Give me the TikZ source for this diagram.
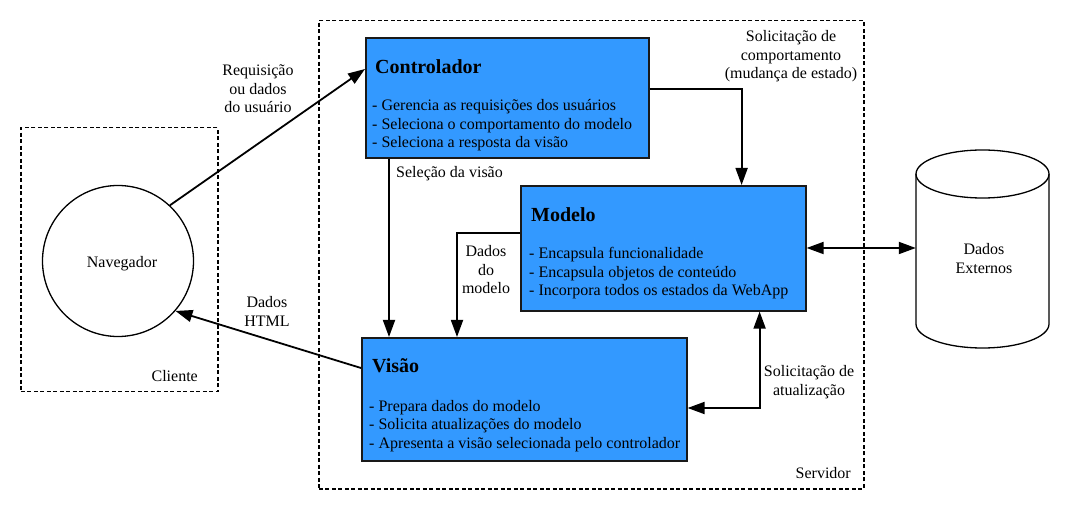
\documentclass[tikz,border=0pt]{standalone}
\usepackage{fontspec}
\setmainfont{Liberation Serif}
\usetikzlibrary{arrows.meta}
\definecolor{boxblue}{HTML}{3399FF}
\newcommand{\tlines}[2]{\begin{tabular}[t]{@{}#1@{}}#2\end{tabular}}
\begin{document}
\begin{tikzpicture}[x=1pt,y=-1pt,
  font=\fontsize{16}{18.5}\selectfont,
  box/.style={draw=black!90, line width=1.6pt, fill=boxblue, inner sep=0, anchor=north west},
  dashbox/.style={draw, line width=1.5pt, dash pattern=on 4pt off 2.5pt, inner sep=0, anchor=north west},
  arr/.style={line width=1.8pt, -{Triangle[length=17pt,width=12pt]}},
  darr/.style={line width=1.8pt, {Triangle[length=17pt,width=12pt]}-{Triangle[length=17pt,width=12pt]}},
  txt/.style={inner sep=0, anchor=base west},
  ctxt/.style={inner sep=0, anchor=base},
  rtxt/.style={inner sep=0, anchor=base east},
  title/.style={inner sep=0, anchor=base west, font=\fontsize{20}{24}\selectfont\bfseries}]
\useasboundingbox (0,0) rectangle (1079,518);

% containers
\node[dashbox, minimum width=545pt, minimum height=468pt] (srv) at (318,20) {};
\node[dashbox, minimum width=197pt, minimum height=264pt] (cli) at (20,127) {};
\node[rtxt] (srvT) at (851,478) {Servidor};
\node[rtxt] (cliT) at (198,382) {Cliente};

% browser
\node[draw, circle, line width=1.3pt, minimum size=151pt, inner sep=0] (nav) at (118,261) {};
\node[ctxt] (navT) at (122,268) {Navegador};

% external data cylinder
\node[inner sep=0, minimum width=133pt, minimum height=198pt] (db) at (982.5,249) {};
\draw[line width=1.3pt] (916,174) -- (916,324) arc[start angle=180, end angle=360, x radius=66.5pt, y radius=24pt] -- (1049,174);
\draw[line width=1.3pt] (982.5,174) ellipse [x radius=66.5pt, y radius=24pt];
\node[ctxt] (dbT) at (984,255) {\tlines{c}{Dados\\Externos}};

% MVC boxes
\node[box, minimum width=283pt, minimum height=120pt] (ctrl) at (365,37) {};
\node[box, minimum width=285pt, minimum height=125pt] (mod) at (520,185) {};
\node[box, minimum width=325pt, minimum height=123pt] (vis) at (361,337) {};

\node[title] (ctrlT) at (375,74) {Controlador};
\node[txt] (ctrlL) at (372,111) {\tlines{l}{- Gerencia as requisições dos usuários\\- Seleciona o comportamento do modelo\\- Seleciona a resposta da visão}};
\node[title] (modT) at (531,222) {Modelo};
\node[txt] (modL) at (529,259) {\tlines{l}{- Encapsula funcionalidade\\- Encapsula objetos de conteúdo\\- Incorpora todos os estados da WebApp}};
\node[title] (visT) at (372,373) {Visão};
\node[txt] (visL) at (369,411) {\tlines{l}{- Prepara dados do modelo\\- Solicita atualizações do modelo\\- Apresenta a visão selecionada pelo controlador}};

% connectors
\draw[arr] (nav.47) -- ([yshift=-32pt]ctrl.north west);
\draw[arr] ([yshift=-31pt]vis.north west) -- (nav.-41);
\draw[arr] ([xshift=24pt]ctrl.south west) -- ([xshift=28pt]vis.north west);
\draw[arr] ([yshift=-52pt]ctrl.north east) -| ([xshift=-65pt]mod.north east);
\draw[arr] ([yshift=-48pt]mod.north west) -| ([xshift=96pt]vis.north west);
\draw[darr] ([yshift=-63pt]mod.north east) -- ([yshift=-63pt]mod.north east -| db.west);
\draw[darr] ([yshift=-71pt]vis.north east) -| ([xshift=-47pt]mod.south east);

% labels
\node[ctxt] (lReq) at (258,76) {\tlines{c}{Requisição\\ou dados\\do usuário}};
\node[ctxt] (lHtml) at (267,308) {\tlines{c}{Dados\\HTML}};
\node[txt] (lSel) at (396,178) {Seleção da visão};
\node[ctxt] (lDm) at (486,257) {\tlines{c}{Dados\\do\\modelo}};
\node[ctxt] (lComp) at (791,42) {\tlines{c}{Solicitação de\\comportamento\\(mudança de estado)}};
\node[ctxt] (lAtu) at (809,377) {\tlines{c}{Solicitação de\\atualização}};
\end{tikzpicture}
\end{document}
